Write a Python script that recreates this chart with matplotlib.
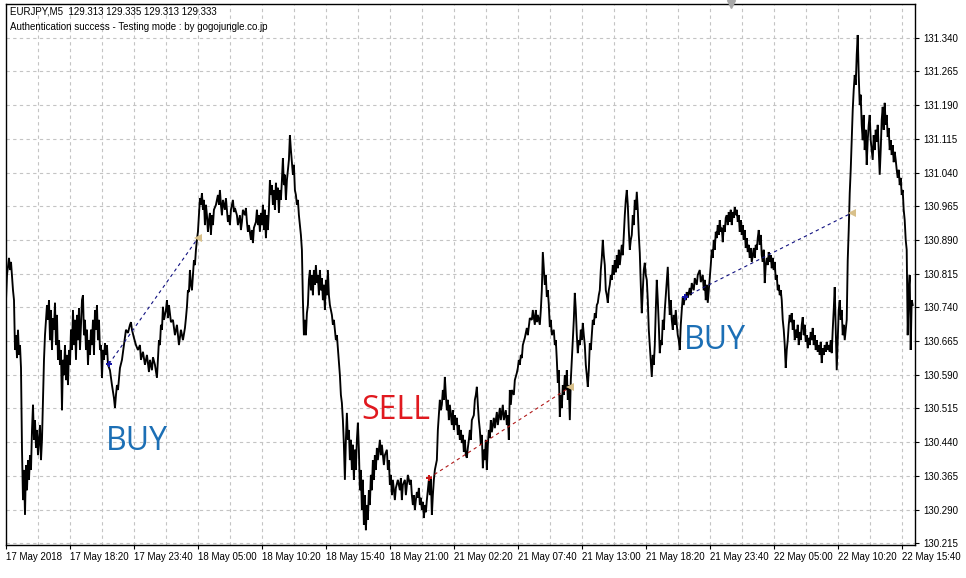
import matplotlib
matplotlib.use("Agg")
import matplotlib.pyplot as plt
from matplotlib.transforms import blended_transform_factory, Bbox, TransformedBbox

# ---- price path (bar index, close), in four segments ----
seg1 = [(0,130.756),(1,130.812),(3,130.850),(4,130.823),(5,130.841),(7,130.778),(8,130.756),(9,130.645),
        (10,130.678),(11,130.627),(12,130.690),(13,130.634),(14,130.656),(15,130.605),(16,130.423),(17,130.311),
        (18,130.378),(19,130.278),(20,130.389),(21,130.333),(22,130.400),(23,130.356),(24,130.411),(25,130.378),
        (26,130.467),(27,130.523),(28,130.445),(29,130.489),(30,130.427),(31,130.467),(32,130.411),(34,130.478),
        (35,130.400),(36,130.445),(37,130.534),(38,130.623),(39,130.678),(41,130.745),(42,130.712),(43,130.756),
        (44,130.667),(45,130.734),(46,130.645),(47,130.716),(48,130.690),(49,130.750),(50,130.656),(51,130.723),
        (52,130.623),(53,130.667),(54,130.612),(55,130.645),(56,130.511),(57,130.623),(58,130.589),(59,130.656),
        (60,130.578),(61,130.634),(62,130.567),(63,130.645),(64,130.612),(65,130.690),(66,130.645),(67,130.734),
        (68,130.656),(69,130.712),(70,130.623),(71,130.723),(72,130.667),(73,130.738),(74,130.645),(75,130.701),
        (76,130.756),(77,130.767),(78,130.678),(79,130.712),(80,130.645),(81,130.690),(82,130.612),(83,130.667),
        (84,130.634),(85,130.690),(86,130.656),(87,130.712),(88,130.634),(89,130.734),(90,130.690),(91,130.745),
        (92,130.667),(93,130.712),(94,130.645),(95,130.656),(96,130.583),(97,130.645),(98,130.623),(99,130.660),
        (100,130.634),(101,130.656),(102,130.612),(104,130.600),(106,130.567),(108,130.538),(109,130.516),
        (110,130.545),(111,130.567),(112,130.556),(114,130.605),(116,130.623),(118,130.656),(120,130.690),
        (122,130.683),(124,130.701),(125,130.707),(126,130.690),(128,130.672),(130,130.656),(132,130.645),
        (134,130.656),(135,130.623),(137,130.641),(139,130.612),(141,130.634),(143,130.596),(144,130.623),
        (146,130.600),(147,130.629),(149,130.612),(151,130.583),(152,130.623),(153,130.667),(154,130.656),
        (155,130.701),(156,130.690),(157,130.741),(158,130.712),(160,130.734),(161,130.756),(162,130.716),
        (163,130.745),(165,130.707),(167,130.712),(169,130.678),(171,130.701),(173,130.656),(175,130.690),
        (177,130.667),(179,130.694),(180,130.716),(181,130.741),(182,130.778),(183,130.774),(184,130.823),
        (185,130.790),(186,130.778),(187,130.812),(188,130.845),(189,130.834),(190,130.868),(191,130.890),
        (192,130.908),(193,130.945),(194,130.983),(195,130.968),(196,130.994),(197,130.957),(198,130.979),
        (199,130.923),(200,130.968),(201,130.945),(202,130.908),(203,130.934),(204,130.950),(205,130.901),
        (206,130.945),(207,130.923),(208,130.957),(210,130.968),(212,130.990),(213,130.968),(214,131.001),
        (215,130.968),(216,130.945),(217,130.979),(219,130.957),(220,130.983),(222,130.930),(223,130.945),
        (224,130.923)]

seg2 = [(225,130.957),(227,130.979),(228,130.952),(229,130.961),(231,130.945),(232,130.923),(234,130.945),
        (235,130.912),(236,130.930),(237,130.957),(239,130.945),(240,130.961),(241,130.930),(242,130.908),
        (243,130.923),(245,130.890),(246,130.912),(247,130.883),(248,130.917),(250,130.930),(251,130.957),
        (252,130.923),(253,130.945),(254,130.908),(255,130.950),(256,130.923),(257,130.968),(258,130.912),
        (259,130.957),(260,130.894),(261,130.945),(262,130.912),(263,130.957),(264,131.023),(265,130.990),
        (266,131.012),(267,130.968),(268,131.001),(269,130.957),(270,131.017),(271,130.979),(272,131.006),
        (273,130.950),(274,131.001),(275,130.979),(276,131.023),(277,131.072),(278,131.012),(279,131.035),
        (280,130.979),(281,131.023),(282,131.046),(283,131.068),(284,131.123),(285,131.090),(286,131.061),
        (287,131.035),(288,131.057),(289,131.001),(290,130.990),(291,130.968),(292,130.979),(293,130.945),
        (294,130.923),(295,130.901),(296,130.868),(297,130.756),(298,130.678),(299,130.712),(300,130.678),
        (301,130.727),(302,130.745),(303,130.801),(304,130.823),(305,130.778),(306,130.812),(307,130.767),
        (308,130.823),(309,130.790),(310,130.834),(311,130.794),(312,130.812),(313,130.767),(314,130.823),
        (315,130.778),(316,130.805),(317,130.756),(318,130.790),(319,130.734),(320,130.801),(321,130.767),
        (322,130.823),(323,130.767),(324,130.745),(325,130.734),(326,130.723),(327,130.701),(328,130.712),
        (329,130.690),(330,130.667),(331,130.678),(332,130.649),(333,130.623),(334,130.589),(335,130.545),
        (336,130.527),(337,130.489),(338,130.434),(339,130.356),(340,130.445),(341,130.505),(342,130.445),
        (343,130.467),(344,130.400),(345,130.445),(346,130.378),(347,130.434),(348,130.356),(349,130.423),
        (350,130.378),(351,130.445),(352,130.483),(353,130.423),(354,130.333),(355,130.378),(356,130.289),
        (357,130.356),(358,130.256),(359,130.322),(360,130.244),(361,130.300),(362,130.267),(363,130.333),
        (364,130.300),(365,130.367),(366,130.333),(367,130.400),(368,130.356),(369,130.411),(370,130.378),
        (371,130.427),(372,130.400),(374,130.445),(375,130.411),(376,130.434),(378,130.389),(379,130.411),
        (381,130.423),(382,130.378),(383,130.400),(384,130.345),(385,130.367),(386,130.322),(387,130.356),
        (389,130.311),(390,130.338),(392,130.356),(394,130.333),(395,130.360),(396,130.311),(397,130.345),
        (399,130.356),(400,130.322),(402,130.367),(404,130.345),(405,130.356),(406,130.322),(407,130.300),
        (408,130.322),(409,130.289),(410,130.311),(411,130.329),(412,130.316),(413,130.338),(414,130.300),
        (415,130.316),(416,130.289),(417,130.307),(418,130.271),(419,130.300),(420,130.284),(421,130.311),
        (422,130.333),(423,130.356),(424,130.322),(425,130.360),(426,130.278),(427,130.322),(428,130.356),
        (429,130.378),(431,130.400),(432,130.467),(433,130.500),(434,130.534),(435,130.511),(436,130.523),
        (437,130.556),(438,130.534),(439,130.585),(440,130.545),(441,130.511),(442,130.534),(443,130.489),
        (444,130.523),(445,130.500),(446,130.478),(447,130.511),(448,130.467),(449,130.500),(450,130.478),
        (451,130.494),(452,130.456),(453,130.478),(454,130.445)]

seg3 = [(455,130.467),(456,130.438),(457,130.456),(458,130.418),(459,130.445),(460,130.411),(461,130.405),
        (462,130.427),(463,130.445),(464,130.467),(465,130.445),(466,130.489),(468,130.500),(469,130.534),
        (470,130.545),(471,130.563),(472,130.523),(473,130.489),(474,130.467),(475,130.434),(476,130.456),
        (477,130.382),(478,130.423),(479,130.400),(480,130.445),(481,130.378),(482,130.434),(483,130.467),
        (484,130.449),(485,130.489),(486,130.462),(488,130.494),(489,130.471),(491,130.507),(492,130.478),
        (494,130.516),(495,130.489),(497,130.523),(498,130.489),(500,130.511),(501,130.478),(502,130.500),
        (503,130.445),(504,130.556),(505,130.523),(506,130.556),(508,130.545),(509,130.578),(511,130.594),
        (512,130.605),(513,130.623),(514,130.612),(515,130.634),(516,130.627),(517,130.656),(519,130.672),
        (521,130.694),(522,130.678),(524,130.716),(526,130.712),(527,130.734),(529,130.701),(530,130.734),
        (531,130.707),(532,130.723),(534,130.701),(535,130.734),(536,130.778),(537,130.863),(538,130.827),
        (539,130.790),(540,130.812),(541,130.763),(542,130.778),(543,130.745),(544,130.696),(545,130.712),
        (546,130.678),(548,130.690),(549,130.656),(550,130.667),(551,130.623),(552,130.572),(553,130.600),
        (554,130.496),(555,130.545),(556,130.516),(557,130.567),(558,130.545),(559,130.589),(560,130.556),
        (561,130.600),(562,130.534),(563,130.567),(564,130.489),(565,130.578),(566,130.623),(567,130.667),
        (568,130.712),(569,130.772),(570,130.734),(571,130.678),(572,130.638),(573,130.667),(574,130.656),
        (575,130.690),(576,130.667),(577,130.705),(578,130.678),(579,130.656),(580,130.612),(581,130.589),
        (582,130.563),(583,130.600),(584,130.660),(585,130.645),(586,130.678),(587,130.712),(588,130.701),
        (589,130.727),(590,130.716),(591,130.745),(592,130.750),(593,130.767),(594,130.778),(595,130.823),
        (596,130.850),(597,130.890),(598,130.856),(599,130.834),(600,130.778),(601,130.767),(602,130.750),
        (603,130.778),(604,130.790),(605,130.812),(606,130.801),(607,130.834),(608,130.812),(609,130.845),
        (610,130.818),(611,130.856),(612,130.827),(613,130.868),(614,130.834),(615,130.856),(616,130.879),
        (617,130.856),(618,130.901),(619,130.945),(620,130.979),(621,131.001),(622,130.968),(623,130.912),
        (624,130.868),(625,130.890),(626,130.901),(627,130.945),(628,130.923),(629,130.979),(630,130.957),
        (631,130.997),(632,130.957),(633,130.901),(634,130.861),(635,130.790),(636,130.727),(637,130.778),
        (638,130.823),(639,130.839),(640,130.812),(641,130.801),(642,130.756),(643,130.690),(644,130.656),
        (645,130.623),(646,130.585),(647,130.634),(648,130.612),(649,130.656),(650,130.734),(651,130.801),
        (652,130.756),(653,130.701),(654,130.638),(655,130.667),(656,130.656),(657,130.712),(658,130.690),
        (659,130.734),(660,130.767),(661,130.801),(662,130.830),(663,130.767),(664,130.723),(665,130.756),
        (666,130.712),(667,130.690),(668,130.723),(669,130.701),(670,130.734),(671,130.701),(672,130.678),
        (673,130.667),(674,130.645),(675,130.701),(676,130.734),(677,130.763),(678,130.745),(679,130.765),
        (680,130.756)]

seg4 = [(681,130.774),(682,130.761),(684,130.783),(685,130.767),(686,130.794),(688,130.778),(689,130.805),
        (691,130.790),(692,130.812),(694,130.823),(695,130.796),(697,130.812),(698,130.778),(699,130.801),
        (700,130.756),(701,130.790),(702,130.750),(703,130.778),(704,130.807),(705,130.834),(706,130.868),
        (707,130.850),(708,130.890),(709,130.868),(710,130.908),(711,130.894),(712,130.923),(713,130.901),
        (714,130.934),(715,130.908),(716,130.917),(717,130.885),(718,130.923),(719,130.908),(720,130.939),
        (721,130.945),(722,130.923),(723,130.952),(724,130.930),(725,130.957),(726,130.923),(727,130.952),
        (728,130.939),(729,130.963),(730,130.945),(731,130.957),(732,130.930),(733,130.945),(734,130.908),
        (735,130.934),(736,130.901),(737,130.923),(738,130.890),(739,130.912),(740,130.872),(741,130.894),
        (742,130.863),(743,130.879),(744,130.850),(745,130.872),(746,130.841),(747,130.856),(748,130.872),
        (749,130.850),(750,130.879),(751,130.868),(752,130.894),(753,130.912),(754,130.879),(755,130.901),
        (756,130.856),(757,130.841),(758,130.868),(759,130.794),(760,130.834),(761,130.850),(762,130.834),
        (763,130.863),(764,130.841),(765,130.856),(766,130.827),(767,130.850),(768,130.823),(769,130.841),
        (770,130.801),(771,130.812),(772,130.778),(773,130.790),(774,130.767),(775,130.778),(776,130.756),
        (777,130.712),(778,130.690),(779,130.656),(780,130.605),(781,130.645),(782,130.667),(783,130.701),
        (784,130.723),(785,130.707),(786,130.727),(787,130.690),(788,130.712),(789,130.667),(790,130.690),
        (791,130.672),(792,130.701),(793,130.656),(794,130.685),(795,130.667),(796,130.701),(797,130.718),
        (798,130.678),(799,130.701),(800,130.663),(801,130.678),(802,130.649),(803,130.672),(804,130.656),
        (805,130.685),(806,130.667),(807,130.694),(808,130.656),(809,130.678),(810,130.645),(811,130.667),
        (812,130.641),(813,130.656),(814,130.634),(815,130.663),(816,130.616),(817,130.649),(818,130.634),
        (819,130.656),(820,130.641),(821,130.663),(822,130.645),(823,130.656),(824,130.641),(825,130.667),
        (826,130.638),(827,130.690),(828,130.734),(829,130.785),(830,130.690),(831,130.600),(832,130.667),
        (833,130.734),(834,130.756),(835,130.712),(836,130.734),(837,130.678),(838,130.701),(839,130.667),
        (840,130.690),(841,130.712),(842,130.845),(843,130.912),(844,130.994),(845,131.046),(846,131.112),
        (847,131.179),(848,131.224),(849,131.257),(850,131.235),(851,131.302),(852,131.346),(853,131.257),
        (854,131.190),(855,131.213),(856,131.146),(857,131.112),(858,131.168),(859,131.090),(860,131.135),
        (861,131.057),(862,131.112),(863,131.146),(864,131.168),(865,131.112),(866,131.090),(867,131.068),
        (868,131.123),(869,131.090),(870,131.135),(871,131.108),(872,131.146),(873,131.090),(874,131.035),
        (875,131.090),(876,131.157),(877,131.186),(878,131.135),(879,131.195),(880,131.146),(881,131.168),
        (882,131.119),(883,131.139),(884,131.090),(885,131.112),(886,131.079),(887,131.101),(888,131.063),
        (889,131.086),(890,131.068),(891,131.046),(892,131.028),(893,131.046),(894,131.012),(895,131.028),
        (896,130.990),(897,131.001),(898,130.957),(899,130.934),(900,130.890),(901,130.868),(902,130.678),
        (903,130.778),(904,130.812),(905,130.645),(906,130.756),(907,130.745)]

tick_bars = [0, 64, 128, 192, 256, 320, 384, 448, 512, 576, 640, 704, 768, 832, 896]
tick_labels = ["17 May 2018", "17 May 18:20", "17 May 23:40", "18 May 05:00", "18 May 10:20",
               "18 May 15:40", "18 May 21:00", "21 May 02:20", "21 May 07:40", "21 May 13:00",
               "21 May 18:20", "21 May 23:40", "22 May 05:00", "22 May 10:20", "22 May 15:40"]
price_ticks = [130.215, 130.290, 130.365, 130.440, 130.515, 130.590, 130.665, 130.740,
               130.815, 130.890, 130.965, 131.040, 131.115, 131.190, 131.265, 131.340]

# trades: (entry bar, entry price, exit bar, exit price, side)
trades = [(103, 130.614, 192, 130.894, "buy"),
          (423, 130.360, 564, 130.562, "sell"),
          (679, 130.763, 846, 130.950, "buy")]
labels = [("BUY", 131, 130.442, "#1c6fb5"),
          ("SELL", 390, 130.511, "#e0191f"),
          ("BUY", 709, 130.667, "#1c6fb5")]

header1 = "EURJPY,M5  129.313 129.335 129.313 129.333"
header2 = "Authentication success - Testing mode : by gogojungle.co.jp"

# ---- build series ----
bars, close = [], []
for seg in (seg1, seg2, seg3, seg4):
    for b, p in seg:
        bars.append(b)
        close.append(p)

W, H = 966, 578
fig = plt.figure(figsize=(W / 100, H / 100), dpi=100)
fig.patch.set_facecolor("white")
ax = fig.add_axes([5.7 / W, 1 - 545 / H, (915 - 5.7) / W, (545 - 4) / H])
ax.set_facecolor("white")

ax.set_xlim(-0.3, 909.3)
ax.set_ylim(130.211, 131.415)

grid_kw = dict(color="#c4c4c4", linestyle=(0, (3, 3)), linewidth=0.8)
for p in price_ticks:
    ax.axhline(p, zorder=0, **grid_kw)
for b in range(32, 910, 32):
    ax.axvline(b, zorder=0, **grid_kw)

ax.plot(bars, close, color="black", linewidth=1.35, solid_joinstyle="miter", zorder=3)

for eb, ep, xb, xp, side in trades:
    c = "#101080" if side == "buy" else "#b01818"
    ax.plot([eb, xb], [ep, xp], color=c, linewidth=0.8, linestyle=(0, (3, 3)), zorder=4)
    ax.plot([eb], [ep], marker="P", markersize=5, color=("#1818a8" if side == "buy" else "#c81818"),
            markeredgewidth=0, zorder=5)
    ax.plot([xb], [xp], marker="<", markersize=6, color="#d8c08a", markeredgewidth=0, zorder=5)

for txt, b, p, col in labels:
    ax.text(b, p, txt, color=col, fontsize=23, family="Open Sans", ha="center", va="center", zorder=6)

# x axis
ax.set_xticks(tick_bars)
ax.set_xticklabels(tick_labels)
clip = TransformedBbox(Bbox([[0, 0], [962 / W, 1]]), fig.transFigure)
for lab in ax.get_xticklabels():
    lab.set_ha("left")
    lab.set_family("Liberation Sans")
    lab.set_fontsize(7)
    lab.set_clip_box(clip)
    lab.set_clip_on(True)
ax.tick_params(axis="x", direction="out", length=3, width=0.8, pad=2, colors="black")

# y axis on right
ax.yaxis.tick_right()
ax.set_yticks(price_ticks)
ax.set_yticklabels(["%.3f" % p for p in price_ticks])
for lab in ax.get_yticklabels():
    lab.set_family("Liberation Sans")
    lab.set_fontsize(7)
ax.tick_params(axis="y", direction="out", length=3, width=0.8, pad=3, colors="black")

for s in ax.spines.values():
    s.set_color("black")
    s.set_linewidth(1.0)

# shift marker at the top
tr = blended_transform_factory(ax.transData, ax.transAxes)
ax.plot([725], [1.0], marker="v", markersize=6, color="#a8a8a8", transform=tr, clip_on=False, zorder=7)

fig.text(10 / W, 1 - 12 / H, header1, fontsize=7, family="Liberation Sans", va="center", ha="left")
fig.text(10 / W, 1 - 27 / H, header2, fontsize=7, family="Liberation Sans", va="center", ha="left")

fig.savefig("out.png", dpi=100, facecolor="white")
